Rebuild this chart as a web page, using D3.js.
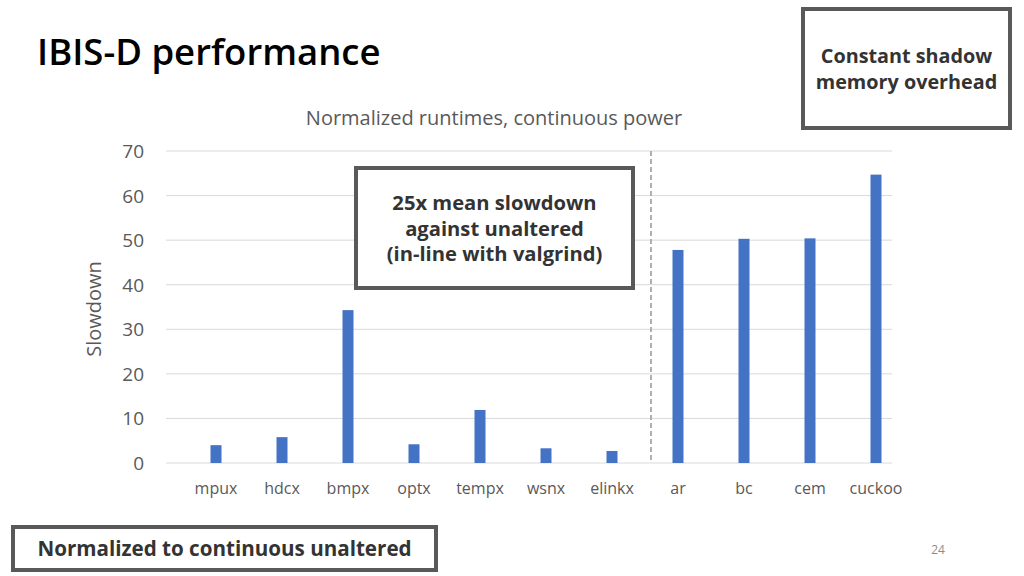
<!DOCTYPE html>
<html>
<head>
<meta charset="utf-8">
<script src="https://cdn.jsdelivr.net/npm/d3@7"></script>
<style>
  body { margin: 0; background: #fff; }
  svg { display: block; font-family: "Open Sans", "Noto Sans", sans-serif; }
</style>
</head>
<body>
<svg id="slide" width="1024" height="576"></svg>
<script>
var categories = ["mpux", "hdcx", "bmpx", "optx", "tempx", "wsnx", "elinkx", "ar", "bc", "cem", "cuckoo"]
var slowdown = [4.0, 5.8, 34.3, 4.2, 11.9, 3.3, 2.7, 47.8, 50.3, 50.4, 64.7]
var yTicks = [0, 10, 20, 30, 40, 50, 60, 70]
var splitAfter = "elinkx"

var svg = d3.select("#slide")

var x = d3.scaleBand().domain(categories).range([183, 909])
var y = d3.scaleLinear().domain([0, 70]).range([463, 151])

// title
svg.append("text")
    .attr("x", 37).attr("y", 65)
    .text("IBIS-D performance")
    .style("font-size", "36.5px")
    .style("font-weight", "600")
    .style("fill", "#000")

// chart title
svg.append("text")
    .attr("x", 494).attr("y", 125)
    .attr("text-anchor", "middle")
    .text("Normalized runtimes, continuous power")
    .style("font-size", "20px")
    .style("fill", "#595959")

// gridlines
svg.append("g")
    .selectAll("line")
    .data(yTicks)
    .enter()
    .append("line")
    .attr("x1", 166).attr("x2", 892)
    .attr("y1", d => y(d)).attr("y2", d => y(d))
    .style("stroke", "#d9d9d9")
    .style("stroke-width", 1)

// y tick labels
svg.append("g")
    .selectAll("text")
    .data(yTicks)
    .enter()
    .append("text")
    .attr("x", 144)
    .attr("y", d => y(d) + 7)
    .attr("text-anchor", "end")
    .text(d => d)
    .style("font-size", "19px")
    .style("fill", "#595959")

svg.append("text")
    .attr("transform", "translate(101,309) rotate(-90)")
    .attr("text-anchor", "middle")
    .text("Slowdown")
    .style("font-size", "20px")
    .style("fill", "#595959")

// bars
svg.append("g")
    .selectAll("rect")
    .data(categories)
    .enter()
    .append("rect")
    .attr("x", d => x(d) + x.bandwidth() / 2 - 5.5)
    .attr("width", 11)
    .attr("y", (d, i) => y(slowdown[i]))
    .attr("height", (d, i) => y(0) - y(slowdown[i]))
    .style("fill", "#4472c4")

// x labels
svg.append("g")
    .selectAll("text")
    .data(categories)
    .enter()
    .append("text")
    .attr("x", d => x(d) + x.bandwidth() / 2)
    .attr("y", 494)
    .attr("text-anchor", "middle")
    .text(d => d)
    .style("font-size", "16px")
    .style("fill", "#595959")

// dashed separator
var sx = x(splitAfter) + x.bandwidth() + 6
svg.append("line")
    .attr("x1", sx).attr("x2", sx)
    .attr("y1", y(70)).attr("y2", y(0))
    .style("stroke", "#b0b0b0")
    .style("stroke-width", 2)
    .style("stroke-dasharray", "5,3")

// callout boxes
function box(x0, y0, w, h, lines, lineY, size) {
    svg.append("rect")
        .attr("x", x0).attr("y", y0)
        .attr("width", w).attr("height", h)
        .style("fill", "#fff")
        .style("stroke", "#595959")
        .style("stroke-width", 4)
    svg.append("g")
        .selectAll("text")
        .data(lines)
        .enter()
        .append("text")
        .attr("x", x0 + w / 2)
        .attr("y", (d, i) => lineY[i])
        .attr("text-anchor", "middle")
        .text(d => d)
        .style("font-size", size + "px")
        .style("font-weight", "bold")
        .style("fill", "#333")
}

box(356, 168, 277, 120, ["25x mean slowdown", "against unaltered", "(in-line with valgrind)"], [210, 236, 261], 20.2)
box(803, 9, 207, 119, ["Constant shadow", "memory overhead"], [63, 89], 19.8)
box(13, 527, 423, 43, ["Normalized to continuous unaltered"], [556], 20.6)

svg.append("text")
    .attr("x", 938).attr("y", 554)
    .attr("text-anchor", "middle")
    .text("24")
    .style("font-size", "12px")
    .style("fill", "#8c8c8c")
</script>
</body>
</html>
